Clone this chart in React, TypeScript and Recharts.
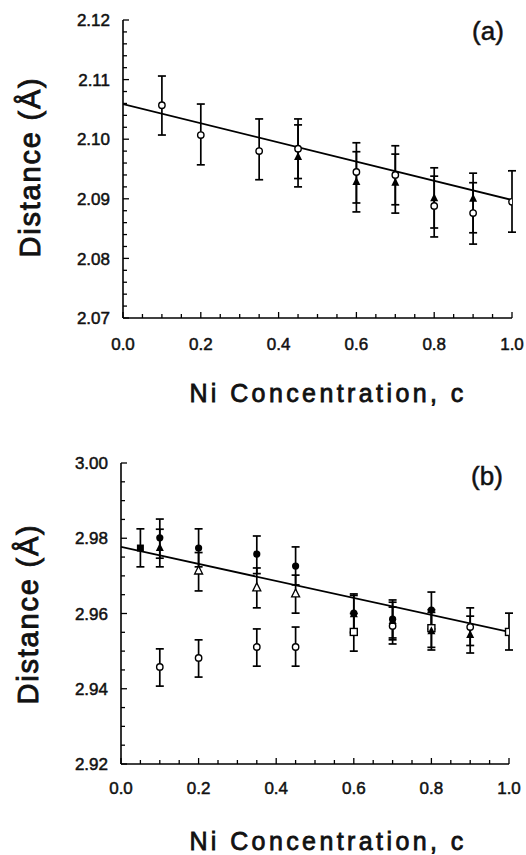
import { ScatterChart, Scatter, XAxis, YAxis, ErrorBar } from 'recharts';

// Panel (a): first-shell distance vs Ni concentration
const aCircles = [
  { c: 0.1, d: 2.1057, lo: 2.1007, hi: 2.1106 },
  { c: 0.2, d: 2.1007, lo: 2.0957, hi: 2.1059 },
  { c: 0.35, d: 2.098, lo: 2.0932, hi: 2.1034 },
  { c: 0.45, d: 2.0984, lo: 2.0934, hi: 2.1034 },
  { c: 0.6, d: 2.0945, lo: 2.0893, hi: 2.0994 },
  { c: 0.7, d: 2.094, lo: 2.089, hi: 2.0989 },
  { c: 0.8, d: 2.0888, lo: 2.0836, hi: 2.0938 },
  { c: 0.9, d: 2.0876, lo: 2.0824, hi: 2.0927 },
  { c: 1.0, d: 2.0895, lo: 2.0844, hi: 2.0947 },
];
const aTriangles = [
  { c: 0.45, d: 2.097, lo: 2.092, hi: 2.1024 },
  { c: 0.6, d: 2.0928, lo: 2.0878, hi: 2.0979 },
  { c: 0.7, d: 2.0927, lo: 2.0876, hi: 2.0975 },
  { c: 0.8, d: 2.0901, lo: 2.0851, hi: 2.0952 },
  { c: 0.9, d: 2.09, lo: 2.0843, hi: 2.0943 },
];
const aFit = [
  { c: 0, d: 2.1059 },
  { c: 1, d: 2.0898 },
];

// Panel (b): second-shell distance vs Ni concentration
const bFilledCircles = [
  { c: 0.1, d: 2.9801, lo: 2.9747, hi: 2.9851 },
  { c: 0.2, d: 2.9774, lo: 2.9724, hi: 2.9825 },
  { c: 0.35, d: 2.9758, lo: 2.9706, hi: 2.9806 },
  { c: 0.45, d: 2.9726, lo: 2.9676, hi: 2.9777 },
  { c: 0.6, d: 2.9601, lo: 2.9551, hi: 2.9652 },
  { c: 0.7, d: 2.9585, lo: 2.9535, hi: 2.9636 },
  { c: 0.8, d: 2.9609, lo: 2.9559, hi: 2.9657 },
];
const bOpenTriangles = [
  { c: 0.2, d: 2.9713, lo: 2.966, hi: 2.9762 },
  { c: 0.35, d: 2.9668, lo: 2.9615, hi: 2.9721 },
  { c: 0.45, d: 2.9652, lo: 2.9601, hi: 2.9702 },
];
const bFilledTriangles = [
  { c: 0.1, d: 2.9774, lo: 2.9724, hi: 2.9824 },
  { c: 0.6, d: 2.9598, lo: 2.9548, hi: 2.9648 },
  { c: 0.7, d: 2.958, lo: 2.953, hi: 2.963 },
  { c: 0.8, d: 2.9553, lo: 2.9503, hi: 2.9603 },
  { c: 0.9, d: 2.9543, lo: 2.9495, hi: 2.9593 },
];
const bOpenCircles = [
  { c: 0.1, d: 2.9458, lo: 2.9407, hi: 2.9506 },
  { c: 0.2, d: 2.9482, lo: 2.9431, hi: 2.953 },
  { c: 0.35, d: 2.9511, lo: 2.946, hi: 2.9559 },
  { c: 0.45, d: 2.9511, lo: 2.946, hi: 2.9564 },
  { c: 0.7, d: 2.9567, lo: 2.9519, hi: 2.9617 },
  { c: 0.9, d: 2.9564, lo: 2.9515, hi: 2.9615 },
];
const bOpenSquares = [
  { c: 0.6, d: 2.9551, lo: 2.95, hi: 2.96 },
  { c: 0.8, d: 2.9561, lo: 2.951, hi: 2.961 },
  { c: 1.0, d: 2.9551, lo: 2.9503, hi: 2.9601 },
];
const bFilledSquares = [{ c: 0.05, d: 2.9774, lo: 2.9724, hi: 2.9825 }];
const bFit = [
  { c: 0, d: 2.9777 },
  { c: 1, d: 2.9551 },
];

// ticks
const xMajor = [0, 0.2, 0.4, 0.6, 0.8, 1.0];
const xTicks = Array.from({ length: 21 }, (_, i) => +(i * 0.05).toFixed(2));
const aYMajor = [2.07, 2.08, 2.09, 2.1, 2.11, 2.12];
const aYTicks = Array.from({ length: 26 }, (_, i) => +(2.07 + i * 0.002).toFixed(3));
const bYMajor = [2.92, 2.94, 2.96, 2.98, 3.0];
const bYTicks = Array.from({ length: 17 }, (_, i) => +(2.92 + i * 0.005).toFixed(3));

const withErr = (pts: { c: number; d: number; lo: number; hi: number }[]) =>
  pts.map((p) => ({ ...p, err: [p.d - p.lo, p.hi - p.d] }));

const FONT = '"Liberation Sans", Arial, sans-serif';
const isIn = (list: number[], v: number) => list.some((m) => Math.abs(m - v) < 1e-6);

const makeXTick = (major: number[], dy: number) => (props: any) => {
  const { x, y, payload } = props;
  const big = isIn(major, payload.value);
  return (
    <g>
      <line x1={x} x2={x} y1={y} y2={y - (big ? 6 : 4)} stroke="#000" strokeWidth={1.3} />
      {big && (
        <text x={x} y={y + dy} textAnchor="middle" fontFamily={FONT} fontSize={17} fill="#111" stroke="#111" strokeWidth={0.5}>
          {payload.value.toFixed(1)}
        </text>
      )}
    </g>
  );
};

const makeYTick = (major: number[]) => (props: any) => {
  const { x, y, payload } = props;
  const big = isIn(major, payload.value);
  return (
    <g>
      <line x1={x} x2={x + (big ? 6 : 4)} y1={y} y2={y} stroke="#000" strokeWidth={1.3} />
      {big && (
        <text x={x - 13} y={y} dy="0.36em" textAnchor="end" fontFamily={FONT} fontSize={17} fill="#111" stroke="#111" strokeWidth={0.5}>
          {payload.value.toFixed(2)}
        </text>
      )}
    </g>
  );
};

const OpenCircle = (p: any) => <circle cx={p.cx} cy={p.cy} r={3.2} fill="#fff" stroke="#000" strokeWidth={1.4} />;
const FilledCircle = (p: any) => <circle cx={p.cx} cy={p.cy} r={3.6} fill="#000" />;
const FilledTriangle = (p: any) => (
  <polygon points={`${p.cx},${p.cy - 5} ${p.cx - 4},${p.cy + 3} ${p.cx + 4},${p.cy + 3}`} fill="#000" />
);
const OpenTriangle = (p: any) => (
  <polygon points={`${p.cx},${p.cy - 5} ${p.cx - 4},${p.cy + 3} ${p.cx + 4},${p.cy + 3}`} fill="#fff" stroke="#000" strokeWidth={1.3} />
);
const OpenSquare = (p: any) => <rect x={p.cx - 3.5} y={p.cy - 3.5} width={7} height={7} fill="#fff" stroke="#000" strokeWidth={1.4} />;
const FilledSquare = (p: any) => <rect x={p.cx - 3.5} y={p.cy - 3.5} width={7} height={7} fill="#000" />;
const NoShape = () => <g />;

const errBar = <ErrorBar dataKey="err" direction="y" width={4} stroke="#000" strokeWidth={1.7} isAnimationActive={false} />;

const yTitle = (x: number, y: number) => (
  <text transform={`translate(${x},${y}) rotate(-90)`} textAnchor="middle" fontFamily={FONT} fontSize={29} fill="#111" stroke="#111" strokeWidth={0.9} letterSpacing={1.8}>
    Distance (Å)
  </text>
);
const xTitle = (y: number) => (
  <text x={328} y={y} textAnchor="middle" fontFamily={FONT} fontSize={25} fill="#111" stroke="#111" strokeWidth={0.8} letterSpacing={3.4}>
    Ni Concentration, c
  </text>
);

export default function App() {
  const axisLine = { stroke: '#000', strokeWidth: 1.6 };
  return (
    <div style={{ position: 'absolute', left: 0, top: 0, width: 526, height: 855, background: '#fff' }}>
      <div style={{ position: 'absolute', left: 0, top: 0 }}>
        <ScatterChart width={526} height={420} margin={{ top: 20, right: 14, bottom: 0, left: 0 }}>
          <XAxis type="number" dataKey="c" domain={[0, 1]} ticks={xTicks} interval={0} height={102}
            tickSize={0} tickMargin={0} axisLine={axisLine} tickLine={false} tick={makeXTick(xMajor, 32)} allowDataOverflow />
          <YAxis type="number" dataKey="d" domain={[2.07, 2.12]} ticks={aYTicks} interval={0} width={123}
            tickSize={0} tickMargin={0} axisLine={axisLine} tickLine={false} tick={makeYTick(aYMajor)} allowDataOverflow />
          <Scatter data={aFit} line={{ stroke: '#000', strokeWidth: 1.8 }} shape={NoShape} isAnimationActive={false} />
          <Scatter data={withErr(aTriangles)} shape={FilledTriangle} isAnimationActive={false}>{errBar}</Scatter>
          <Scatter data={withErr(aCircles)} shape={OpenCircle} isAnimationActive={false}>{errBar}</Scatter>
          <text x={488} y={40} textAnchor="middle" fontFamily={FONT} fontSize={26} fill="#111" stroke="#111" strokeWidth={0.5}>(a)</text>
          {yTitle(40, 167)}
          {xTitle(402)}
        </ScatterChart>
      </div>
      <div style={{ position: 'absolute', left: 0, top: 420 }}>
        <ScatterChart width={526} height={435} margin={{ top: 43, right: 17, bottom: 0, left: 0 }}>
          <XAxis type="number" dataKey="c" domain={[0, 1]} ticks={xTicks} interval={0} height={91}
            tickSize={0} tickMargin={0} axisLine={axisLine} tickLine={false} tick={makeXTick(xMajor, 30)} allowDataOverflow />
          <YAxis type="number" dataKey="d" domain={[2.92, 3.0]} ticks={bYTicks} interval={0} width={121}
            tickSize={0} tickMargin={0} axisLine={axisLine} tickLine={false} tick={makeYTick(bYMajor)} allowDataOverflow />
          <Scatter data={bFit} line={{ stroke: '#000', strokeWidth: 1.8 }} shape={NoShape} isAnimationActive={false} />
          <Scatter data={withErr(bOpenCircles)} shape={OpenCircle} isAnimationActive={false}>{errBar}</Scatter>
          <Scatter data={withErr(bOpenSquares)} shape={OpenSquare} isAnimationActive={false}>{errBar}</Scatter>
          <Scatter data={withErr(bOpenTriangles)} shape={OpenTriangle} isAnimationActive={false}>{errBar}</Scatter>
          <Scatter data={withErr(bFilledTriangles)} shape={FilledTriangle} isAnimationActive={false}>{errBar}</Scatter>
          <Scatter data={withErr(bFilledCircles)} shape={FilledCircle} isAnimationActive={false}>{errBar}</Scatter>
          <Scatter data={withErr(bFilledSquares)} shape={FilledSquare} isAnimationActive={false}>{errBar}</Scatter>
          <text x={487} y={65} textAnchor="middle" fontFamily={FONT} fontSize={26} fill="#111" stroke="#111" strokeWidth={0.5}>(b)</text>
          {yTitle(38, 194)}
          {xTitle(430)}
        </ScatterChart>
      </div>
    </div>
  );
}
